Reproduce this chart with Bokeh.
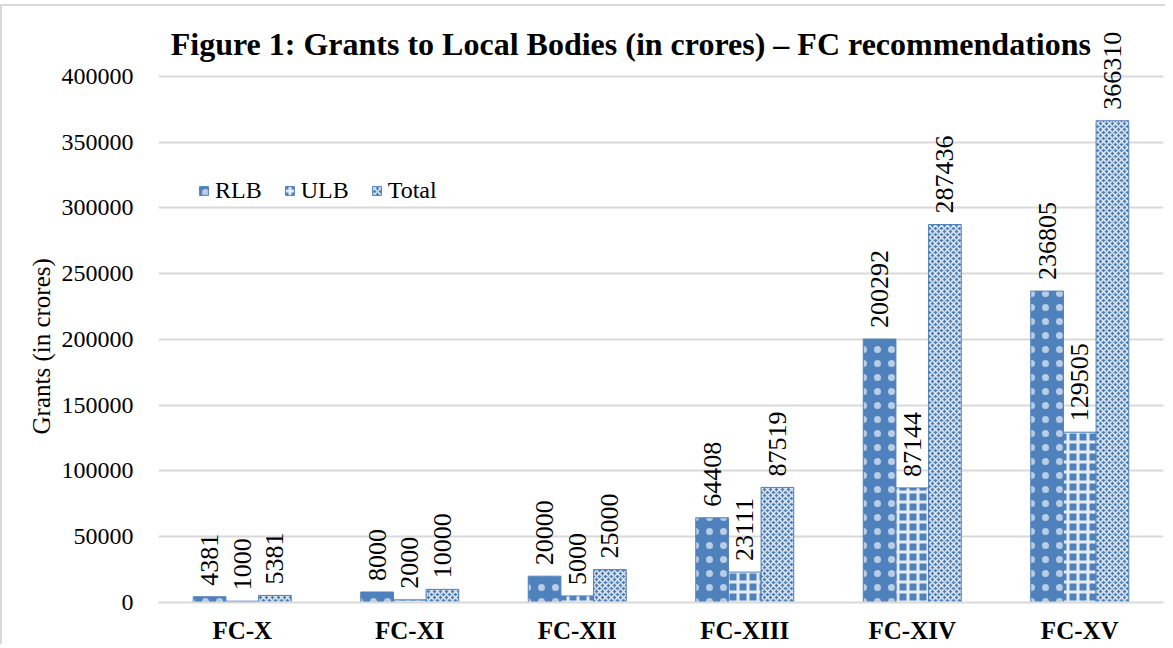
import math
from bokeh.plotting import figure
from bokeh.models import ColumnDataSource, FactorRange, Legend, LegendItem, Label, Title, FixedTicker, NumeralTickFormatter
from bokeh.transform import dodge
from bokeh.core.properties import value
from bokeh.embed import file_html
from bokeh.resources import INLINE

categories = ["FC-X", "FC-XI", "FC-XII", "FC-XIII", "FC-XIV", "FC-XV"]
rlb = [4381, 8000, 20000, 64408, 200292, 236805]
ulb = [1000, 2000, 5000, 23111, 87144, 129505]
total = [5381, 10000, 25000, 87519, 287436, 366310]
y_ticks = [0, 50000, 100000, 150000, 200000, 250000, 300000, 350000, 400000]

FONT = "Liberation Serif"
BLUE = "#4F81BD"
GRID = "#d9d9d9"

src = ColumnDataSource(dict(
    cat=categories, rlb=rlb, ulb=ulb, total=total,
    rlb_t=[str(v) for v in rlb], ulb_t=[str(v) for v in ulb], total_t=[str(v) for v in total],
))

p = figure(
    x_range=FactorRange(*categories, range_padding=0, factor_padding=0),
    y_range=(0, 438000),
    width=1165, height=640,
    output_backend="svg", toolbar_location=None,
    min_border_left=156, min_border_right=4, min_border_top=20, min_border_bottom=44,
)
p.styles = {"border-left": "2px solid #d9d9d9", "border-top": "2px solid #d9d9d9",
            "margin-left": "0px", "margin-top": "4px"}
p.outline_line_color = None

W = 0.195
series = [("RLB", "rlb", -W, dict(hatch_pattern="dot", hatch_scale=14, hatch_weight=1, hatch_alpha=0.6)),
          ("ULB", "ulb", 0.0, dict(hatch_pattern="cross", hatch_scale=10, hatch_weight=3, hatch_alpha=0.85)),
          ("Total", "total", W, dict(hatch_pattern="diagonal_cross", hatch_scale=6, hatch_weight=1.5, hatch_alpha=0.85))]

items = []
for name, col, off, hatch in series:
    r = p.vbar(x=dodge("cat", off, range=p.x_range), top=col, width=W, source=src,
               fill_color=BLUE, line_color=BLUE, line_width=1,
               hatch_color="white", **hatch)
    items.append(LegendItem(label=name, renderers=[r]))
    p.text(x=dodge("cat", off, range=p.x_range), y=col, text=col + "_t", source=src,
           angle=math.pi / 2, text_align="left", text_baseline="middle",
           y_offset=-11, text_font=value(FONT), text_font_size="26px", text_color="black")

legend = Legend(items=items, orientation="horizontal", location=(40, 398),
                background_fill_alpha=0, border_line_color=None,
                label_text_font=FONT, label_text_font_size="24px", label_text_color="black",
                glyph_width=11, glyph_height=11, label_standoff=6, spacing=22,
                padding=0, margin=0)
p.add_layout(legend, "center")

p.yaxis.ticker = FixedTicker(ticks=y_ticks)
p.yaxis.formatter = NumeralTickFormatter(format="0")
p.yaxis.axis_line_color = None
p.yaxis.major_tick_line_color = None
p.yaxis.minor_tick_line_color = None
p.yaxis.major_label_text_font = FONT
p.yaxis.major_label_text_font_size = "24px"
p.yaxis.major_label_text_color = "black"
p.yaxis.major_label_standoff = 19

p.xaxis.axis_line_color = GRID
p.xaxis.axis_line_width = 2
p.xaxis.major_tick_line_color = None
p.xaxis.minor_tick_line_color = None
p.xaxis.major_label_text_font = FONT
p.xaxis.major_label_text_font_size = "25px"
p.xaxis.major_label_text_font_style = "bold"
p.xaxis.major_label_text_color = "black"
p.xaxis.major_label_standoff = 8

p.xgrid.grid_line_color = None
p.ygrid.grid_line_color = GRID
p.ygrid.grid_line_width = 2

ylabel = Title(text="Grants (in crores)", align="left", offset=168, standoff=8,
               text_font=FONT, text_font_size="25px", text_font_style="normal",
               text_color="black")
p.add_layout(ylabel, "left")

title = Label(x=2.82, y=425000, text="Figure 1: Grants to Local Bodies (in crores) \u2013 FC recommendations",
              text_font=FONT, text_font_size="32px", text_font_style="bold",
              text_align="center", text_baseline="middle", text_color="black")
p.add_layout(title)

open("out.html", "w").write(file_html(p, INLINE))
